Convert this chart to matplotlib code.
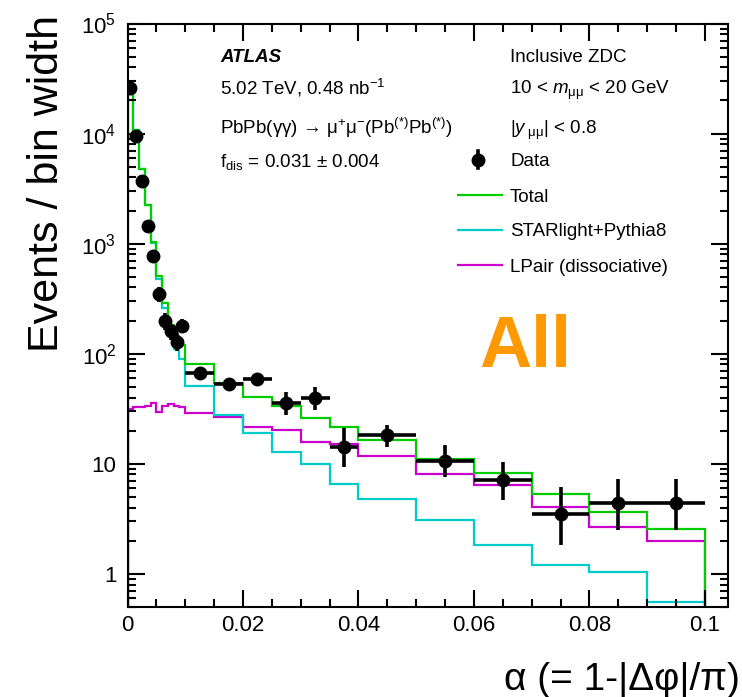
import numpy as np
import matplotlib
matplotlib.use("Agg")
import matplotlib.pyplot as plt
from matplotlib.ticker import FixedLocator, FixedFormatter, MultipleLocator, LogLocator, NullFormatter
from matplotlib.lines import Line2D

plt.rcParams['font.family'] = ['Liberation Sans', 'DejaVu Sans']
plt.rcParams['mathtext.fontset'] = 'custom'
plt.rcParams['mathtext.rm'] = 'Liberation Sans'
plt.rcParams['mathtext.it'] = 'Liberation Sans:italic'
plt.rcParams['mathtext.bf'] = 'Liberation Sans:bold'

# bin edges in alpha
edges = [0.0, 0.001, 0.002, 0.003, 0.004, 0.005, 0.006, 0.007, 0.008, 0.009, 0.010,
         0.015, 0.020, 0.025, 0.030, 0.035, 0.040,
         0.050, 0.060, 0.070, 0.080, 0.090, 0.100]

# data (events / bin width)
data_y = [25700, 9600, 3740, 1455, 774, 347, 198, 160, 129, 178,
          67.5, 53, 59, 35.4, 39.4, 14.2,
          18.2, 10.6, 7.17, 3.5, 4.38, 4.38]
data_err_lo = [700, 450, 280, 170, 110, 55, 35, 28, 24, 23,
               8, 6, 6, 7.6, 8.8, 4.9,
               4.0, 3.0, 2.5, 1.66, 1.9, 1.9]
data_err_hi = [700, 450, 280, 170, 110, 55, 35, 28, 24, 30,
               8, 7, 7, 9.6, 10.6, 6.8,
               4.2, 4.1, 3.3, 2.7, 2.9, 2.9]

# templates
total = [23000, 10700, 4800, 2260, 1040, 508, 290, 184, 144, 121,
         81, 54, 40.7, 33.5, 25.9, 21.7,
         16.4, 11.1, 8.24, 5.27, 3.63, 2.56]
starlight = [22970, 10670, 4770, 2225, 1005, 478, 262, 150, 111, 90,
             51, 27.7, 18.9, 12.8, 9.9, 6.6,
             4.74, 3.09, 1.84, 1.2, 1.05, 0.56]
lpair = [31.5, 32.5, 33, 33.5, 35.5, 29.5, 33.5, 35, 33.5, 32.5,
         29.1, 26.4, 21.7, 20.2, 15.8, 15.1,
         11.8, 8.0, 6.46, 4.09, 2.65, 2.0]

ytick_vals = [1, 10, 100, 1e3, 1e4, 1e5]
ytick_labels = ['1', '10', '$10^{2}$', '$10^{3}$', '$10^{4}$', '$10^{5}$']
xtick_vals = [0, 0.02, 0.04, 0.06, 0.08, 0.1]
xtick_labels = ['0', '0.02', '0.04', '0.06', '0.08', '0.1']

c_total = '#00cc00'
c_star = '#00cccc'
c_lpair = '#cc00cc'

W, H = 742, 697
fig = plt.figure(figsize=(W / 100, H / 100), dpi=100)
ax = fig.add_axes([127.5 / W, 1 - 607 / H, (728 - 127.5) / W, (607 - 23.5) / H])

e = np.array(edges)
centers = 0.5 * (e[1:] + e[:-1])
half_w = 0.5 * (e[1:] - e[:-1])

ax.stairs(lpair, e, color=c_lpair, lw=1.6, baseline=1e-3)
ax.stairs(starlight, e, color=c_star, lw=1.6, baseline=1e-3)
ax.stairs(total, e, color=c_total, lw=1.6, baseline=1e-3)

ax.errorbar(centers, data_y, xerr=half_w, yerr=[data_err_lo, data_err_hi],
            fmt='o', color='black', ms=9, elinewidth=2.6, capsize=0, zorder=5)

ax.set_yscale('log')
ax.set_xlim(0, 0.104)
ax.set_ylim(0.5, 1e5)

ax.yaxis.set_major_locator(FixedLocator(ytick_vals))
ax.yaxis.set_major_formatter(FixedFormatter(ytick_labels))
ax.yaxis.set_minor_locator(LogLocator(base=10, subs=np.arange(2, 10)))
ax.yaxis.set_minor_formatter(NullFormatter())
ax.xaxis.set_major_locator(FixedLocator(xtick_vals))
ax.xaxis.set_major_formatter(FixedFormatter(xtick_labels))
ax.xaxis.set_minor_locator(MultipleLocator(0.005))

ax.tick_params(which='both', direction='in', top=True, right=True, width=1.5, labelsize=16)
ax.tick_params(which='major', length=12)
ax.tick_params(which='minor', length=6)
ax.tick_params(axis='y', pad=8)
ax.tick_params(axis='x', pad=6)
for s in ax.spines.values():
    s.set_linewidth(1.5)

# axis titles
fig.text(47 / W, 1 - 15 / H, 'Events / bin width', rotation=90, ha='center', va='top', fontsize=31)
fig.text(740 / W, 1 - 690 / H, 'α (= 1-|Δφ|/π)', ha='right', va='baseline', fontsize=28)


def ftext(x, y, s, **kw):
    fig.text(x / W, 1 - y / H, s, va='baseline', fontsize=13.5, **kw)


ftext(220, 61.5, 'ATLAS', fontweight='bold', style='italic')
ftext(220, 94.5, '5.02 TeV, 0.48 nb$^{-1}$')
ftext(220, 133.5, 'PbPb(γγ) → μ${}^{+}$μ${}^{-}$(Pb${}^{(*)}$Pb${}^{(*)}$)')
ftext(220, 166.5, 'f$_{\\mathrm{dis}}$ = 0.031 ± 0.004')

ftext(510, 61.5, 'Inclusive ZDC')
ftext(510, 94.5, '10 < $m_{\\mathrm{μμ}}$ < 20 GeV')
ftext(510, 133.5, '|$y_{\\mathrm{\\ μμ}}$| < 0.8')
ftext(510, 166.5, 'Data')
ftext(510, 201.5, 'Total')
ftext(510, 236.5, 'STARlight+Pythia8')
ftext(510, 271.5, 'LPair (dissociative)')

# legend symbols
tr = fig.transFigure
fig.add_artist(Line2D([478 / W, 478 / W], [1 - 151 / H, 1 - 168 / H], color='black', lw=2.6, transform=tr))
fig.add_artist(Line2D([478 / W], [1 - 159.5 / H], marker='o', ms=9, color='black', transform=tr))
for yy, cc in [(195, c_total), (230, c_star), (265, c_lpair)]:
    fig.add_artist(Line2D([458 / W, 502 / W], [1 - yy / H, 1 - yy / H], color=cc, lw=1.6, transform=tr))

fig.text(525 / W, 1 - 348 / H, 'All', color='#ff9900', fontsize=52, fontweight='bold',
         ha='center', va='center')

fig.savefig('out.png', dpi=100)
